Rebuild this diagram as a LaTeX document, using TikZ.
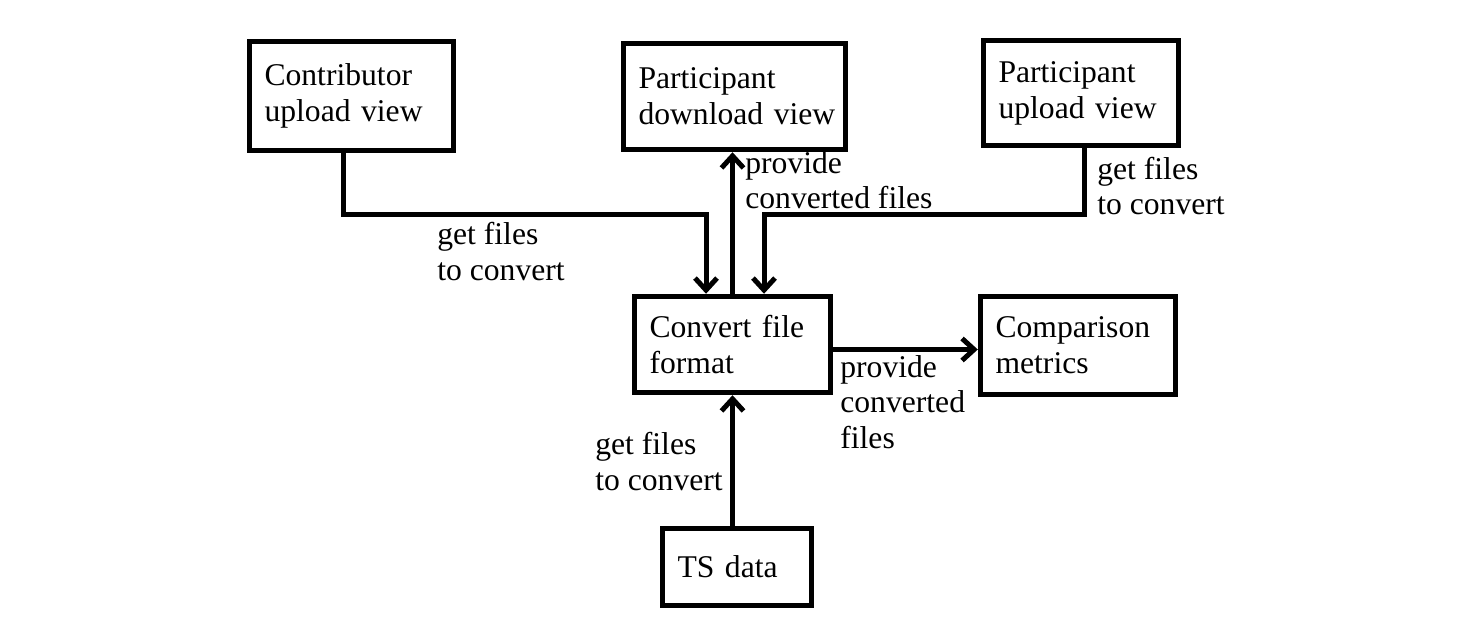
\documentclass[tikz,border=0pt]{standalone}
\usepackage{fontspec}
\setmainfont{Liberation Serif}
\usetikzlibrary{arrows.meta,positioning,calc}

\begin{document}
\begin{tikzpicture}[x=0.02cm, y=-0.02cm, >={Straight Barb[length=0.24cm,width=0.44cm]},
  box/.style={draw, line width=0.11cm, align=left, inner xsep=0.3cm, font=\fontsize{18}{20.5}\selectfont},
  lbl/.style={anchor=base west, inner sep=0pt, align=left, font=\fontsize{18}{20}\selectfont},
  link/.style={->, line width=0.1cm}]
\useasboundingbox (0,0) rectangle (1462,638);
\node[box, text width=3.48cm, minimum height=2.18cm] (contrib) at (351.5,96) {Contributor\\upload view};
\node[box, text width=3.84cm, minimum height=2.12cm] (pdown) at (734.5,96.5) {Participant\\\mbox{download view}};
\node[box, text width=3.3cm, minimum height=2.1cm] (pup) at (1081,93) {Participant\\upload view};
\node[box, text width=3.32cm, minimum height=1.92cm] (conv) at (732.5,344.5) {Convert file\\format};
\node[box, text width=3.3cm, minimum height=1.96cm] (metrics) at (1078,345.5) {Comparison\\metrics};
\node[box, text width=2.38cm, minimum height=1.54cm] (ts) at (737,567) {TS data};
% bends of the two upper inputs
\coordinate (j1) at (343,215);
\coordinate (j2) at (706,215);
\coordinate (j3) at (1084,215);
\coordinate (j4) at (764,215);
\draw[link] (j1 |- contrib.south) -- (j1) -- (j2) -- (j2 |- conv.north);
\draw[link] (conv.north) -- (conv.north |- pdown.south);
\draw[link] (j3 |- pup.south) -- (j3) -- (j4) -- (j4 |- conv.north);
\draw[link] ([yshift=-0.1cm]conv.east) -- ([yshift=-0.1cm]conv.east -| metrics.west);
\draw[link] (ts.north -| conv.south) -- (conv.south);
\node[lbl] (l1) at (437,280) {get files\\to convert};
\node[lbl] (l2) at (745,209) {provide\\converted files};
\node[lbl] (l3) at (1097,215) {get files\\to convert};
\node[lbl] (l4) at (840,448) {provide\\converted\\files};
\node[lbl] (l5) at (595,490) {get files\\to convert};
\end{tikzpicture}
\end{document}
